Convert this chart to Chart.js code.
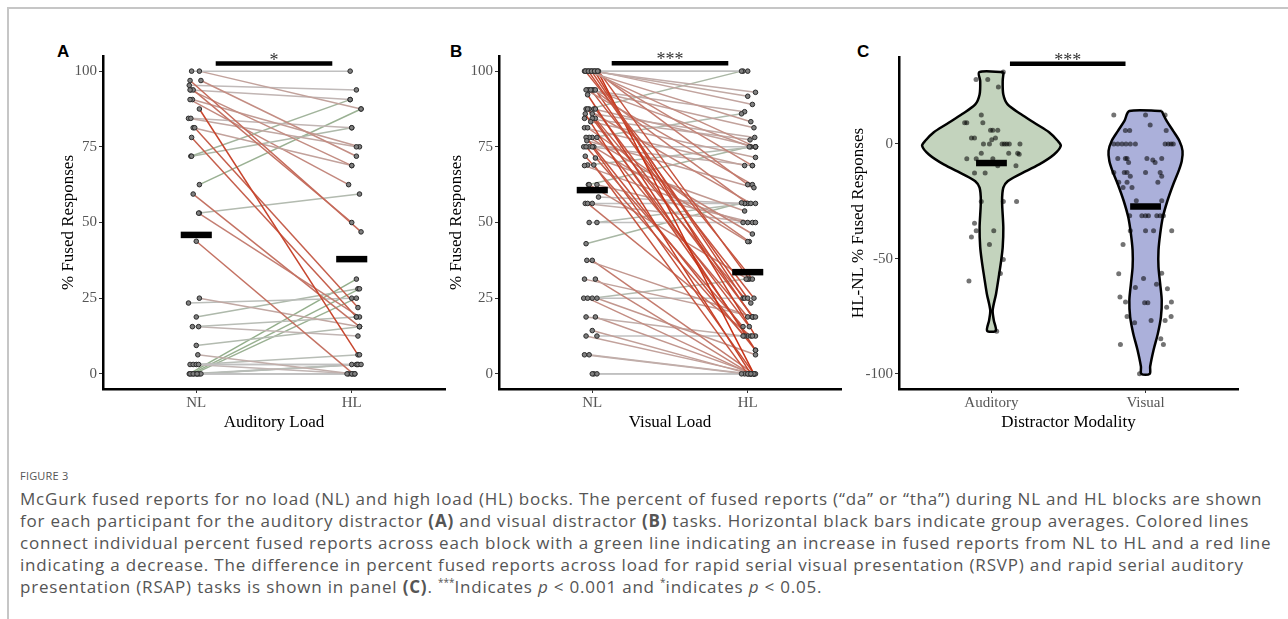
<!DOCTYPE html>
<html>
<head>
<meta charset="utf-8">
<title>McGurk fused reports</title>
<script src="https://cdn.jsdelivr.net/npm/chart.js@4.4.1/dist/chart.umd.min.js"></script>
<style>
  html, body { margin:0; padding:0; background:#fff; }
  body { width:1288px; height:619px; position:relative; overflow:hidden; }
  .frame { position:absolute; left:7px; top:7px; width:1300px; height:630px; border-top:2px solid #c6c6c6; border-left:2px solid #c6c6c6; }
  canvas { position:absolute; }
  #cA { left:40px; top:40px; }
  #cB { left:436px; top:40px; }
  #cC { left:836px; top:40px; }
  .tag { position:absolute; top:43px; font:bold 17px/17px "Liberation Sans", Arial, sans-serif; color:#000; }
  .fig { position:absolute; left:20px; top:468px; font:11px/16px "Open Sans", sans-serif; color:#555; letter-spacing:.2px; }
  .cap { position:absolute; left:20px; top:488px; font:17px/22px "Open Sans", sans-serif; color:#555; white-space:nowrap; letter-spacing:.8px; }
  .cap sup { font-size:10px; line-height:0; letter-spacing:0; }
</style>
</head>
<body>
<div class="frame"></div>
<div class="tag" style="left:57px">A</div>
<div class="tag" style="left:450px">B</div>
<div class="tag" style="left:857px">C</div>
<canvas id="cA" width="410" height="400"></canvas>
<canvas id="cB" width="410" height="400"></canvas>
<canvas id="cC" width="406" height="400"></canvas>
<div class="fig">FIGURE 3</div>
<div class="cap">McGurk fused reports for no load (NL) and high load (HL) bocks. The percent of fused reports (“da” or “tha”) during NL and HL blocks are shown<br>for each participant for the auditory distractor <b>(A)</b> and visual distractor <b>(B)</b> tasks. Horizontal black bars indicate group averages. Colored lines<br>connect individual percent fused reports across each block with a green line indicating an increase in fused reports from NL to HL and a red line<br>indicating a decrease. The difference in percent fused reports across load for rapid serial visual presentation (RSVP) and rapid serial auditory<br>presentation (RSAP) tasks is shown in panel <b>(C)</b>. <sup>***</sup>Indicates <i>p</i> &lt; 0.001 and <sup>*</sup>indicates <i>p</i> &lt; 0.05.</div>
<script>
/* ---------- data ---------- */
const catsAB = ['NL', 'HL'];
const catsC = ['Auditory', 'Visual'];
const yTicksAB = [0, 25, 50, 75, 100];
const yTicksC = [-100, -50, 0];

// panel A, auditory load: % fused per participant (NL -> HL) and horizontal jitter
const nlA = [100,100,96.9,96.9,95.3,93.8,93.8,93.8,90.6,87.5,84.4,84.4,81.3,81.3,78.1,71.9,71.9,62.5,59.4,53.1,53.1,43.8,90.6,
             25,23.4,18.8,15.6,15.6,9.4,6.3,3.1,3.1,3.1,3.1,0,0,0,0,0,0,0,0,0,0];
const hlA = [100,87.5,46.9,71.9,93.8,90.6,50,68.8,75,6.3,75,81.3,68.8,21.9,18.8,90.6,81.3,87.5,15.6,59.4,18.8,0,62.5,
             15.6,25,28.1,18.8,12.5,15.6,0,3.1,0,6.3,3.1,31.3,28.1,25,0,0,3.1,3.1,0,3.1,0];
const jxNlA = [-0.03,0.02,-0.04,0.03,-0.045,-0.035,-0.02,-0.04,-0.025,0.02,-0.05,-0.035,-0.02,-0.01,-0.03,-0.035,-0.03,0.02,-0.02,0.02,0.015,0.0,-0.04,
               0.02,-0.05,0.0,-0.025,0.015,0.0,0.01,-0.04,-0.02,0.0,0.015,-0.045,-0.03,-0.015,0.0,0.01,0.02,-0.04,-0.02,0.03,0.005];
const jxHlA = [-0.01,0.06,0.06,0.03,0.03,-0.01,0.0,0.0,0.05,0.04,0.03,0.0,0.0,0.04,0.03,-0.01,0.0,0.06,0.05,0.05,0.05,0.01,-0.02,
               0.05,0.0,0.04,0.03,0.04,0.05,0.0,0.04,0.02,0.05,0.0,0.03,0.05,0.03,-0.02,0.0,0.03,0.04,0.02,0.06,-0.03];
const meanA = [45.9, 37.9];
const sigA = [1.125, 1.875, 102.5];

// panel B, visual load
const nlB = [100,100,100,100,100,100,100,100,100,100,100,100,100,100,100,
             93.8,93.8,93.8,93.8,93.8,93.8,93.8,92.2,
             87.5,87.5,87.5,87.5,87.5,
             85.9,85.9,84.4,84.4,84.4,83.3,
             81.3,81.3,78.1,78.1,78.1,78.1,77,
             75,75,75,75,75,71.9,71.3,69,69,68.8,62.5,62.5,62.5,
             58.4,56.3,56.3,56.3,50,50,43,37.5,37.5,31.3,31.3,25,25,25,25,18.8,18.8,14.3,12.5,12.5,6.3,6.3,0,0,0];
const hlB = [100,100,93,91.7,89,83.3,75,68.8,62.5,31.3,31.3,23.4,25,12.5,0,
             86.6,81.3,75,62.5,56.3,25,18.8,7.8,
             100,75,56.3,18.8,12.5,
             0,78.1,77.3,25,15.6,71.5,
             68.8,43.7,85.9,46.2,18.8,7.8,61.5,
             75,68.8,43.7,15.6,0,12.5,53.8,75,0,50,75,50,31.3,
             56.3,50,12.5,56.3,50,56.3,56.5,18.8,0,18.8,0,25,31.3,6.3,0,12.5,0,0,12.5,0,0,0,0,0,0];
const jxNlB = [-0.05,-0.03,-0.01,0.01,0.03,-0.04,-0.02,0.0,0.02,0.04,-0.045,-0.025,-0.005,0.015,0.035,
               -0.03,-0.02,0.0,-0.04,0.01,-0.01,0.02,-0.03,
               -0.02,0.01,-0.04,0.02,-0.03,
               -0.045,0.0,-0.05,0.02,0.0,-0.01,
               -0.05,-0.03,0.0,-0.02,0.03,-0.04,-0.035,
               -0.055,-0.02,0.01,-0.04,0.0,-0.045,0.02,-0.03,0.01,-0.05,-0.025,0.03,-0.02,
               0.04,-0.045,-0.03,0.0,-0.02,0.03,-0.04,-0.035,0.0,-0.05,0.02,-0.055,0.0,0.03,-0.03,-0.04,0.02,0.0,0.03,-0.04,-0.05,-0.02,0.01,0.03,0.0];
const jxHlB = [-0.03,0.0,0.05,0.0,0.03,0.02,0.05,0.03,0.0,0.01,0.03,0.02,-0.03,0.05,0.04,
               -0.02,0.04,0.02,0.03,0.0,0.04,0.03,0.05,
               -0.04,0.05,0.02,0.035,0.0,
               0.02,0.045,0.015,-0.02,0.01,0.05,
               -0.02,0.01,-0.04,0.03,0.0,0.05,0.04,
               0.05,0.03,0.0,-0.03,0.04,-0.02,-0.02,0.05,0.0,-0.03,0.01,0.03,0.0,
               -0.02,0.05,0.02,0.05,0.0,-0.02,-0.04,0.03,0.04,0.05,0.02,0.0,-0.01,0.05,0.02,-0.03,0.04,0.01,0.03,0.05,-0.02,0.0,0.04,-0.04,0.02];
const meanB = [60.7, 33.6];
const sigB = [1.125, 1.875, 102.6];

// panel C, HL-NL difference per participant (value, horizontal jitter)
const audDiff = [31.3,28,28,24.8,12.6,9.2,9.2,9.2,6,6,6,2.6,2.6,2.6,1.8,0,0,0,0,0,0,0,-4,-4,-4,-4.5,-6.4,-6.4,-6.4,-9.5,-9.5,
                 -12.6,-12.6,-25,-25,-25,-34.5,-37.7,-37.7,-40.5,-43.7,-50.2,-56.3,-59.6,-81.4];
const audJx = [0.077,-0.10,-0.024,0.045,-0.066,-0.174,-0.16,-0.056,-0.006,0.009,0.041,-0.13,-0.11,0.026,0.002,-0.052,-0.013,0.069,0.084,0.099,0.116,0.185,
               -0.066,0.112,0.17,0.18,-0.16,-0.099,0.009,0.041,0.159,-0.11,-0.041,-0.066,0.077,0.163,-0.11,-0.099,0.015,-0.13,-0.013,0.077,0.058,-0.146,0.034];
const visDiff = [12.6,12.6,12.6,8.2,5.9,5.9,5.9,0,0,0,0,0,0,0,0,0,0,
                 -6.3,-6.3,-6.3,-8.1,-6.3,-7,-8.1,-6.3,-12.4,-12.4,-12.4,-14,-12.4,-12.4,-14,
                 -16.7,-18.9,-16.7,-18.9,-16.7,-24.7,-24.7,-31.2,-31.2,-31.2,-31.2,-31.2,-31.2,-31.2,
                 -37.7,-37.7,-37.7,-37.7,-43.7,-56.4,-58.5,-56.2,-62.4,-61,-63,
                 -66.6,-68.7,-69,-69,-68.7,-71,-75,-77.8,-76.8,-76.8,-75,-87.2,-84.7,-87.2,-99.9];
const visJx = [-0.206,0,0.127,0.03,-0.131,-0.103,0.134,-0.206,-0.18,-0.153,-0.127,-0.099,-0.066,0.127,0.148,0.166,0.18,
               -0.18,-0.131,-0.12,-0.11,0.009,0.047,0.062,0.105,-0.206,-0.138,-0.12,-0.099,0,0.095,0.105,
               -0.174,-0.146,-0.12,-0.088,0.08,-0.06,0.105,-0.103,-0.024,0,0.019,0.073,0.095,0.116,
               -0.099,0,0.052,0.17,-0.146,-0.174,-0.013,0.105,-0.066,0.071,0.142,
               -0.166,-0.13,-0.006,0.015,0.168,0.137,-0.12,-0.071,0.036,0.127,0.166,-0.163,0.099,0.116,-0.039];
const meanC = [-8.3, -27.2];
const sigC = [1.12, 1.87, 34.9];

// violin outlines: level and half width (x units), top to bottom
const audViolinY = [31.25,27.3,21.5,17.2,13,8.7,5.1,1.5,-0.8,-4.6,-8.9,-13.3,-16.2,-19,-24.8,-36.4,-44.9,-50.7,-57.9,-65.1,-72.3,-76.6,-81.25];
const audViolinW = [0.079,0.073,0.077,0.105,0.19,0.29,0.374,0.428,0.45,0.406,0.31,0.18,0.105,0.077,0.069,0.077,0.073,0.063,0.047,0.03,0.008,0.015,0.028];
const visViolinY = [14.3,10,5.6,1.3,-3,-7.4,-11.7,-17.5,-24.7,-31.9,-39.1,-46.3,-53.5,-60.8,-68,-75.2,-82.4,-89.6,-96.8,-100];
const visViolinW = [0.105,0.137,0.18,0.22,0.24,0.235,0.215,0.18,0.142,0.112,0.095,0.084,0.084,0.095,0.105,0.1,0.08,0.052,0.03,0.027];

/* ---------- helpers ---------- */
const serif = 'Liberation Serif';

function pairColor(d) {
  const t = Math.pow(Math.min(1, Math.abs(d) / 100), 0.75);
  const end = d < 0 ? [200, 48, 20] : [85, 150, 65];
  const mid = [192, 192, 192];
  const c = mid.map((m, i) => Math.round(m + (end[i] - m) * t));
  return 'rgb(' + c.join(',') + ')';
}

function pairSets(nl, hl, jn, jh) {
  return nl.map((v, i) => ({
    data: [{x: 1 + jn[i], y: v}, {x: 2 + jh[i], y: hl[i]}],
    borderColor: pairColor(hl[i] - v), borderWidth: 1.5, pointRadius: 0, order: 3
  }));
}

function pointSet(nl, hl, jn, jh) {
  const pts = nl.map((v, i) => ({x: 1 + jn[i], y: v}))
    .concat(hl.map((v, i) => ({x: 2 + jh[i], y: v})));
  return { data: pts, showLine: false, pointRadius: 2.3, pointBackgroundColor: '#808080',
           pointBorderColor: '#2a2a2a', pointBorderWidth: 1, order: 1 };
}

function barSet(x0, x1, y, w) {
  return { data: [{x: x0, y: y}, {x: x1, y: y}], borderColor: '#000', borderWidth: w,
           borderCapStyle: 'butt', pointRadius: 0, order: 0 };
}

function violinSet(center, ys, ws, color) {
  const right = ys.map((y, i) => ({x: center + ws[i], y: y}));
  const left = ys.map((y, i) => ({x: center - ws[i], y: y})).reverse();
  const pts = right.concat(left);
  pts.push(right[0]);
  return { data: pts, fill: 'shape', backgroundColor: color, borderColor: '#000',
           borderWidth: 2.5, tension: 0.3, pointRadius: 0, order: 4 };
}

function jitterSet(center, vals, jx) {
  return { data: vals.map((v, i) => ({x: center + jx[i], y: v})), showLine: false,
           pointRadius: 2.5, pointBackgroundColor: 'rgba(0,0,0,0.55)', pointBorderWidth: 0, order: 2 };
}

const starPlugin = {
  id: 'stars',
  afterDatasetsDraw(chart, args, opts) {
    const {ctx, scales: {x, y}} = chart;
    ctx.save();
    ctx.font = '18px "' + serif + '"';
    ctx.fillStyle = '#333';
    ctx.textAlign = 'center';
    ctx.textBaseline = 'alphabetic';
    ctx.fillText(opts.text, x.getPixelForValue(opts.x), y.getPixelForValue(opts.y) + 2);
    ctx.restore();
  }
};

function panel(id, cfg) {
  const tickFont = {family: serif, size: 15};
  const titleFont = {family: serif, size: 17};
  return new Chart(document.getElementById(id), {
    type: 'line',
    data: { datasets: cfg.datasets },
    options: {
      responsive: false, animation: false, devicePixelRatio: 1,
      layout: { padding: { top: cfg.top, right: 3, left: 0, bottom: 0 } },
      plugins: { legend: {display: false}, tooltip: {enabled: false}, stars: cfg.star },
      scales: {
        x: {
          type: 'linear', min: 0.4, max: 2.6,
          afterBuildTicks: s => { s.ticks = [{value: 1}, {value: 2}]; },
          afterFit: s => { s.height = 51; },
          ticks: { callback: v => cfg.cats[v - 1], font: tickFont, color: '#555', padding: 1, maxRotation: 0 },
          grid: { drawOnChartArea: false, tickLength: 4, color: '#333' },
          border: { display: true, color: '#000', width: 2.5 },
          title: { display: true, text: cfg.xTitle, font: titleFont, color: '#000', padding: {top: 0, bottom: 7} }
        },
        y: {
          min: cfg.yMin, max: cfg.yMax,
          afterBuildTicks: s => { s.ticks = cfg.yTicks.map(v => ({value: v})); },
          afterFit: s => { s.width = 63; },
          ticks: { font: tickFont, color: '#555', padding: 2 },
          grid: { drawOnChartArea: false, tickLength: 4, color: '#333' },
          border: { display: true, color: '#000', width: 2.5 },
          title: { display: true, text: cfg.yTitle, font: titleFont, color: '#000', padding: {top: cfg.yPad, bottom: 0} }
        }
      }
    },
    plugins: [starPlugin]
  });
}

/* ---------- panels ---------- */
panel('cA', {
  cats: catsAB, yMin: -5, yMax: 105, yTicks: yTicksAB, top: 16, yPad: 18,
  xTitle: 'Auditory Load', yTitle: '% Fused Responses',
  star: {text: '*', x: (sigA[0] + sigA[1]) / 2, y: sigA[2]},
  datasets: [
    barSet(0.9, 1.1, meanA[0], 6.5), barSet(1.9, 2.1, meanA[1], 6.5),
    barSet(sigA[0], sigA[1], sigA[2], 4.5),
    pointSet(nlA, hlA, jxNlA, jxHlA)
  ].concat(pairSets(nlA, hlA, jxNlA, jxHlA))
});

panel('cB', {
  cats: catsAB, yMin: -5, yMax: 105, yTicks: yTicksAB, top: 16, yPad: 10,
  xTitle: 'Visual Load', yTitle: '% Fused Responses',
  star: {text: '***', x: (sigB[0] + sigB[1]) / 2, y: sigB[2]},
  datasets: [
    barSet(0.9, 1.1, meanB[0], 6.5), barSet(1.9, 2.1, meanB[1], 6.5),
    barSet(sigB[0], sigB[1], sigB[2], 4.5),
    pointSet(nlB, hlB, jxNlB, jxHlB)
  ].concat(pairSets(nlB, hlB, jxNlB, jxHlB))
});

panel('cC', {
  cats: catsC, yMin: -106.56, yMax: 37.81, yTicks: yTicksC, top: 17, yPad: 12,
  xTitle: 'Distractor Modality', yTitle: 'HL-NL % Fused Responses',
  star: {text: '***', x: (sigC[0] + sigC[1]) / 2, y: sigC[2]},
  datasets: [
    barSet(0.9, 1.1, meanC[0], 6.5), barSet(1.9, 2.1, meanC[1], 6.5),
    barSet(sigC[0], sigC[1], sigC[2], 4.5),
    jitterSet(1, audDiff, audJx), jitterSet(2, visDiff, visJx),
    violinSet(1, audViolinY, audViolinW, '#c3d3bd'),
    violinSet(2, visViolinY, visViolinW, '#abb0da')
  ]
});
</script>
</body>
</html>
